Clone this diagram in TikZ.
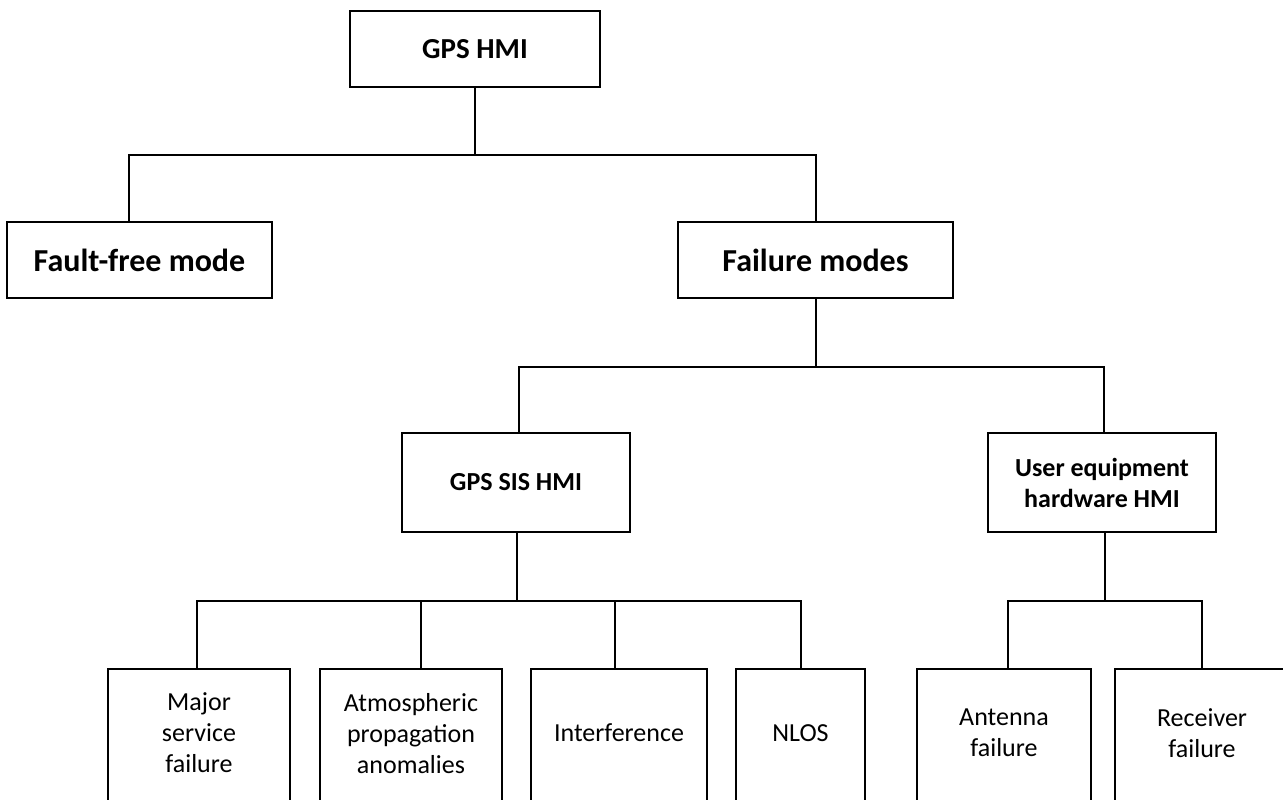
\documentclass[tikz,border=0pt]{standalone}
\usepackage{fontspec}
\setmainfont{Carlito}
\begin{document}
\begin{tikzpicture}[x=0.5pt,y=-0.5pt,
  box/.style={draw=black,line width=1pt,rectangle,inner sep=0pt,align=center},
  leaf/.style={box,font=\fontsize{13}{15.5}\selectfont,minimum height=70pt,text depth=6pt},
  link/.style={draw=black,line width=1pt}]
\useasboundingbox (0,0) rectangle (1283,799);
\clip (0,0) rectangle (1283,799);
% level 0
\node[box,font=\bfseries\fontsize{14.5}{17}\selectfont,minimum width=125pt,minimum height=38pt] (top) at (475,49) {GPS HMI};
% level 1
\node[box,font=\bfseries\fontsize{16}{19}\selectfont,minimum width=132.5pt,minimum height=38pt] (ff) at (139.5,260) {Fault-free mode};
\node[box,font=\bfseries\fontsize{16}{19}\selectfont,minimum width=137.5pt,minimum height=38pt] (fm) at (815.5,260) {Failure modes};
% level 2
\node[box,font=\bfseries\fontsize{13}{15.5}\selectfont,minimum width=114pt,minimum height=49.5pt] (sis) at (516,482.5) {GPS SIS HMI};
\node[box,font=\bfseries\fontsize{13}{15.5}\selectfont,minimum width=114pt,minimum height=49.5pt] (ue) at (1102,482.5) {User equipment\\hardware HMI};
% level 3
\node[leaf,anchor=north,minimum width=91pt] (msf) at (199,668) {Major\\service\\failure};
\node[leaf,anchor=north,minimum width=91pt] (apa) at (411,668) {Atmospheric\\propagation\\anomalies};
\node[leaf,anchor=north,minimum width=88pt] (itf) at (619,668) {Interference};
\node[leaf,anchor=north,minimum width=64.5pt] (nlos) at (800.5,668) {NLOS};
\node[leaf,anchor=north,minimum width=87pt] (ant) at (1004,668) {Antenna\\failure};
\node[leaf,anchor=north,minimum width=87pt] (rec) at (1202,668) {Receiver\\failure};
% bus coordinates
\coordinate (b0) at (475,155);
\coordinate (b1) at (815.5,367);
\coordinate (b2) at (517,601);
\coordinate (b3) at (1105,601);
% connectors
\draw[link] (top.south) -- (b0);
\draw[link] ([xshift=-5.25pt]ff.north) |- (b0) -| (fm.north);
\draw[link] (fm.south) -- (b1);
\draw[link] ([xshift=1.25pt]sis.north) |- (b1) -| ([xshift=1pt]ue.north);
\draw[link] ([xshift=0.5pt]sis.south) -- (b2);
\draw[link] ([xshift=-1pt]msf.north) |- (b2) -| ([xshift=0.25pt]nlos.north);
\draw[link] ([xshift=5pt]apa.north) -- ([xshift=5pt]apa.north |- b2);
\draw[link] ([xshift=-2pt]itf.north) -- ([xshift=-2pt]itf.north |- b2);
\draw[link] ([xshift=1.5pt]ue.south) -- (b3);
\draw[link] ([xshift=2pt]ant.north) |- (b3) -| (rec.north);
\end{tikzpicture}
\end{document}
